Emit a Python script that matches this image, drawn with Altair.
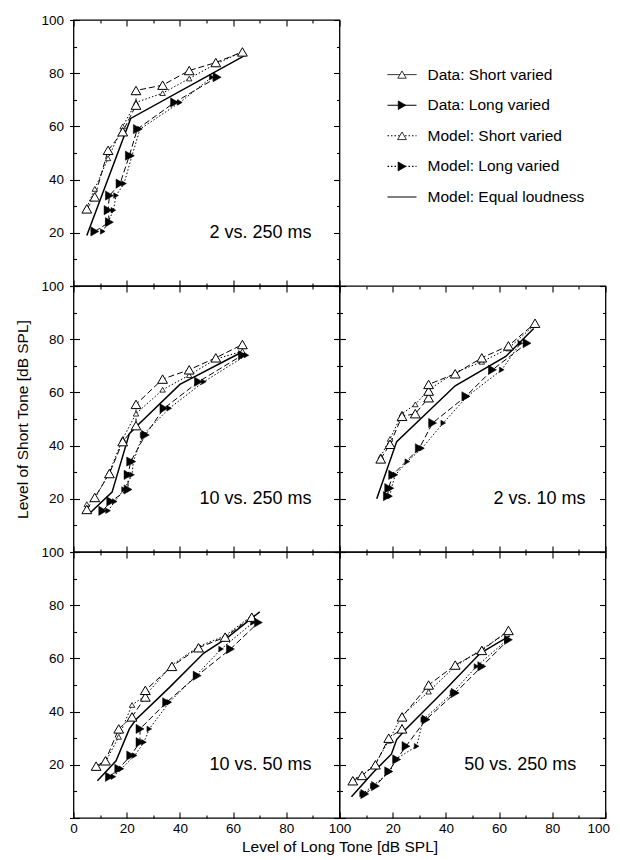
import altair as alt
import pandas as pd

FONT = "Liberation Sans"

SERIES = ["Data: Short varied", "Data: Long varied", "Model: Short varied",
          "Model: Long varied", "Model: Equal loudness"]
PANEL_LABELS = ["2 vs. 250 ms", "10 vs. 250 ms", "2 vs. 10 ms", "10 vs. 50 ms", "50 vs. 250 ms"]
TICK_VALUES = [0, 10, 20, 30, 40, 50, 60, 70, 80, 90, 100]
LABEL_VALUES = [0, 20, 40, 60, 80, 100]

# ---------------- Panel: 2 vs. 250 ms ----------------
DS_X_2_250 = [5, 8, 13, 18.5, 23.5, 23.5, 33.5, 43.5, 53.5, 63.5]
DS_Y_2_250 = [29, 33.5, 51, 58, 68, 73.5, 75.5, 81, 84, 88]
MS_X_2_250 = [5, 8, 13, 18.5, 23.5, 33.5, 43.5, 53.5, 63.5]
MS_Y_2_250 = [29.5, 36.5, 48, 60, 69, 72.5, 78, 83.5, 88]
DL_X_2_250 = [8, 13.5, 13, 13.5, 17.5, 21, 24, 38, 54]
DL_Y_2_250 = [20.5, 24, 28.5, 34, 38.5, 49, 59, 69, 78.5]
ML_X_2_250 = [11, 13, 15, 16, 19, 22, 25, 40, 52]
ML_Y_2_250 = [20.5, 24, 28.5, 34, 38.5, 49, 59, 69, 78.5]
EQ_X_2_250 = [5, 21.5, 65]
EQ_Y_2_250 = [19, 63, 87]

# ---------------- Panel: 10 vs. 250 ms ----------------
DS_X_10_250 = [5, 8, 13.5, 18.5, 23.5, 23.5, 33.5, 43.5, 53.5, 63.5]
DS_Y_10_250 = [16, 20.5, 29.5, 41.5, 47.5, 55.5, 65, 68.5, 73, 78]
MS_X_10_250 = [5, 8, 13.5, 18.5, 23.5, 33.5, 43.5, 53.5, 63.5]
MS_Y_10_250 = [18, 20, 30, 42.5, 52, 61, 66.5, 72.5, 75.5]
DL_X_10_250 = [11, 14, 20.5, 20.5, 21.5, 27, 34, 47, 63.5]
DL_Y_10_250 = [15.5, 19, 23.5, 29, 34, 44, 54, 64, 74]
ML_X_10_250 = [13, 15.5, 19, 22, 22.5, 26, 36, 49, 65]
ML_Y_10_250 = [15.5, 19, 23.5, 29, 34, 44, 54, 64, 74]
EQ_X_10_250 = [6, 14.5, 21, 24.5, 40, 63]
EQ_Y_10_250 = [14.5, 22.5, 44.5, 48, 63, 75]

# ---------------- Panel: 2 vs. 10 ms ----------------
DS_X_2_10 = [15.5, 19, 23.5, 28.5, 33.5, 33.5, 33.5, 43.5, 53.5, 63.5, 73.5]
DS_Y_2_10 = [35, 40.5, 51, 52, 58, 60.5, 63, 67, 73, 77.5, 86]
MS_X_2_10 = [15.5, 19, 23.5, 28.5, 33.5, 43.5, 53.5, 63.5, 73.5]
MS_Y_2_10 = [36, 42.5, 52, 55.5, 61, 67.5, 71.5, 76.5, 85.5]
DL_X_2_10 = [18, 18.5, 20, 30, 35, 47.5, 57.5, 70.5]
DL_Y_2_10 = [21, 24, 29, 39, 48.5, 58.5, 68.5, 78.5]
ML_X_2_10 = [19, 19.5, 21, 25.5, 31, 39, 48, 61, 68]
ML_Y_2_10 = [21, 24, 29, 34, 39, 48.5, 58.5, 68.5, 78.5]
EQ_X_2_10 = [14, 21.5, 43.5, 62.5, 73]
EQ_Y_2_10 = [20, 41.5, 62.5, 73.5, 84]

# ---------------- Panel: 10 vs. 50 ms ----------------
DS_X_10_50 = [8.5, 12, 17, 22, 27, 27, 37, 47, 57, 67]
DS_Y_10_50 = [19.5, 21.5, 33.5, 38, 45.5, 48, 57, 64, 68, 75.5]
MS_X_10_50 = [8.5, 12, 17, 22, 27, 37, 47, 57, 67]
MS_Y_10_50 = [19, 21, 30.5, 42.5, 46, 57.5, 64.5, 68.5, 76]
DL_X_10_50 = [13.5, 17, 21.5, 25, 25, 35, 46.5, 59, 69.5]
DL_Y_10_50 = [15.5, 18.5, 23.5, 28.5, 33.5, 43.5, 53.5, 63.5, 73.5]
ML_X_10_50 = [15, 18, 23, 26.5, 28.5, 36, 46, 55.5, 67.5]
ML_Y_10_50 = [15.5, 18.5, 23.5, 28.5, 33.5, 43.5, 53.5, 63.5, 73.5]
EQ_X_10_50 = [9, 16, 21, 23.5, 36, 49, 57.5, 70]
EQ_Y_10_50 = [14, 21.5, 33.5, 37, 49, 62, 67.5, 77.5]

# ---------------- Panel: 50 vs. 250 ms ----------------
DS_X_50_250 = [5, 8.5, 13.5, 18.5, 23.5, 23.5, 33.5, 43.5, 53.5, 63.5]
DS_Y_50_250 = [14, 16, 20, 30, 33.5, 38, 50, 57.5, 63, 70.5]
MS_X_50_250 = [5, 8.5, 13.5, 18.5, 23.5, 33.5, 43.5, 53.5, 63.5]
MS_Y_50_250 = [14.5, 16, 20.5, 29, 38.5, 47.5, 57, 63.5, 70]
DL_X_50_250 = [9.5, 13.5, 18.5, 21.5, 25, 32.5, 43.5, 53.5, 63.5]
DL_Y_50_250 = [9, 12, 17.5, 22, 27, 37, 47, 57, 67]
ML_X_50_250 = [8.5, 12.5, 19, 21, 29, 31.5, 42.5, 51.5, 63]
ML_Y_50_250 = [9, 12, 17.5, 22, 27, 37, 47, 57, 67]
EQ_X_50_250 = [4.5, 13, 19.5, 21.5, 25, 40, 53, 64]
EQ_Y_50_250 = [8, 17.5, 24, 29.5, 33.5, 48.5, 62, 68.5]

W = 266
H = 266
TICK_SIZE = {"condition": {"test": "datum.value % 20 === 0", "value": 6}, "value": 3}
TXT = dict(labelFont=FONT, labelFontSize=13.5, labelColor="black", titleFont=FONT,
           titleFontSize=15.5, titleFontWeight="normal", titleColor="black")


def series_frame(xs, ys, name):
    return pd.DataFrame({"x": xs, "y": ys, "series": name, "ord": list(range(len(xs)))})


def tick_axis(orient, offset):
    # inward-pointing ticks: axis placed on the opposite edge via a negative offset
    return alt.Axis(orient=orient, offset=offset, values=TICK_VALUES, tickSize=TICK_SIZE,
                    tickColor="black", tickWidth=1.1, domain=False, grid=False, labels=False)


def label_axis(orient, show, hide_zero, **extra):
    expr = "datum.value > 0 ? datum.label : ''" if hide_zero else "datum.label"
    kw = dict(orient=orient, values=LABEL_VALUES, domain=False, grid=False, labels=show,
              labelFlush=False, labelExpr=expr, **TXT)
    kw.update(extra)
    return alt.Axis(**kw)


def panel(d, label, label_x, xlab, hide_x0, ylab, x_title=None, y_title=None, flush_right=False):
    ds, ms, dl, ml, eq = d
    xs = alt.Scale(domain=[0, 100], nice=False, zero=False)
    ys = alt.Scale(domain=[0, 100], nice=False, zero=False)

    bx = dict(ticks=False, labelPadding=3.5)
    if flush_right:
        bx.update(labelFlush=True, labelFlushOffset=4)
    if x_title:
        bx.update(titleX=W, titleY=28, titleAlign="center", titleBaseline="middle")
    by = dict(ticks=True, tickSize=4, tickColor="black", tickWidth=1.1, labelPadding=6)
    if y_title:
        by.update(titleX=-51.3, titleY=H / 2, titleAngle=270, titleAlign="center",
                  titleBaseline="middle")

    # layer carrying the labelled bottom/left axes
    eq_layer = alt.Chart(eq).mark_line(color="black", strokeWidth=1.5).encode(
        x=alt.X("x:Q", scale=xs, axis=label_axis("bottom", xlab, hide_x0, **bx), title=x_title),
        y=alt.Y("y:Q", scale=ys, axis=label_axis("left", ylab, True, **by), title=y_title),
        order="ord:Q",
    )
    # inward ticks on bottom and left edges
    ds_line = alt.Chart(ds).mark_line(color="black", strokeWidth=1, strokeDash=[6, 3]).encode(
        x=alt.X("x:Q", scale=xs, axis=tick_axis("top", -H), title=None),
        y=alt.Y("y:Q", scale=ys, axis=tick_axis("right", -W), title=None),
        order="ord:Q",
    )
    # inward ticks on top and right edges
    dl_line = alt.Chart(dl).mark_line(color="black", strokeWidth=1, strokeDash=[6, 3]).encode(
        x=alt.X("x:Q", scale=xs, axis=tick_axis("bottom", -H), title=None),
        y=alt.Y("y:Q", scale=ys, axis=tick_axis("left", -W), title=None),
        order="ord:Q",
    )

    def line(df, dash):
        return alt.Chart(df).mark_line(color="black", strokeWidth=1, strokeDash=dash).encode(
            x=alt.X("x:Q", scale=xs, axis=None),
            y=alt.Y("y:Q", scale=ys, axis=None),
            order="ord:Q",
        )

    def pts(df, shape, size, fill, sw=1):
        return alt.Chart(df).mark_point(shape=shape, size=size, filled=True, fill=fill,
                                        stroke="black", strokeWidth=sw, opacity=1).encode(
            x=alt.X("x:Q", scale=xs, axis=None),
            y=alt.Y("y:Q", scale=ys, axis=None),
        )

    txt = alt.Chart(pd.DataFrame({"t": [label]})).mark_text(
        align="right", baseline="middle", font=FONT, fontSize=18, color="black"
    ).encode(
        x=alt.X(datum=label_x, type="quantitative", scale=xs, axis=None),
        y=alt.Y(datum=20, type="quantitative", scale=ys, axis=None),
        text="t:N",
    )

    layers = [
        eq_layer,
        ds_line,
        dl_line,
        line(ms, [1.5, 2]),
        line(ml, [1.5, 2]),
        pts(ms, "triangle-up", 30, "white", 0.8),
        pts(ml, "triangle-right", 30, "black", 0.5),
        pts(ds, "triangle-up", 95, "white", 1),
        pts(dl, "triangle-right", 85, "black", 0.5),
        txt,
    ]
    return alt.layer(*layers).resolve_axis(x="independent", y="independent").properties(
        width=W, height=H
    )


def panel_data(dsx, dsy, msx, msy, dlx, dly, mlx, mly, eqx, eqy):
    return (series_frame(dsx, dsy, SERIES[0]), series_frame(msx, msy, SERIES[2]),
            series_frame(dlx, dly, SERIES[1]), series_frame(mlx, mly, SERIES[3]),
            series_frame(eqx, eqy, SERIES[4]))


p1 = panel(panel_data(DS_X_2_250, DS_Y_2_250, MS_X_2_250, MS_Y_2_250, DL_X_2_250, DL_Y_2_250,
                      ML_X_2_250, ML_Y_2_250, EQ_X_2_250, EQ_Y_2_250),
           PANEL_LABELS[0], 89.5, False, False, True)
p2 = panel(panel_data(DS_X_10_250, DS_Y_10_250, MS_X_10_250, MS_Y_10_250, DL_X_10_250, DL_Y_10_250,
                      ML_X_10_250, ML_Y_10_250, EQ_X_10_250, EQ_Y_10_250),
           PANEL_LABELS[1], 89.5, False, False, True, y_title="Level of Short Tone [dB SPL]")
p3 = panel(panel_data(DS_X_2_10, DS_Y_2_10, MS_X_2_10, MS_Y_2_10, DL_X_2_10, DL_Y_2_10,
                      ML_X_2_10, ML_Y_2_10, EQ_X_2_10, EQ_Y_2_10),
           PANEL_LABELS[2], 92.5, False, False, False)
p4 = panel(panel_data(DS_X_10_50, DS_Y_10_50, MS_X_10_50, MS_Y_10_50, DL_X_10_50, DL_Y_10_50,
                      ML_X_10_50, ML_Y_10_50, EQ_X_10_50, EQ_Y_10_50),
           PANEL_LABELS[3], 89.5, True, False, True, x_title="Level of Long Tone [dB SPL]")
p5 = panel(panel_data(DS_X_50_250, DS_Y_50_250, MS_X_50_250, MS_Y_50_250, DL_X_50_250, DL_Y_50_250,
                      ML_X_50_250, ML_Y_50_250, EQ_X_50_250, EQ_Y_50_250),
           PANEL_LABELS[4], 89, True, True, False, flush_right=True)

# ---------------- legend panel ----------------
leg_df = pd.DataFrame({"label": SERIES})
leg_y = alt.Y("label:N", scale=alt.Scale(type="point", domain=SERIES, range=[54.6, 177], padding=0),
              axis=None)
leg_rule = alt.Chart(leg_df).mark_rule(color="black").encode(
    x=alt.value(48), x2=alt.value(77), y=leg_y,
    strokeDash=alt.StrokeDash("label:N", scale=alt.Scale(
        domain=SERIES, range=[[1, 0], [1, 0], [1.5, 2], [1.5, 2], [1, 0]]), legend=None),
    strokeWidth=alt.StrokeWidth("label:N", scale=alt.Scale(
        domain=SERIES, range=[1, 1.2, 1, 1, 1.6]), legend=None),
)
leg_pts = alt.Chart(leg_df).transform_filter(
    alt.FieldOneOfPredicate(field="label", oneOf=SERIES[:4])
).mark_point(filled=True, stroke="black", opacity=1, strokeWidth=0.8).encode(
    x=alt.value(62.5), y=leg_y,
    shape=alt.Shape("label:N", scale=alt.Scale(
        domain=SERIES[:4], range=["triangle-up", "triangle-right", "triangle-up", "triangle-right"]),
        legend=None),
    size=alt.Size("label:N", scale=alt.Scale(domain=SERIES[:4], range=[70, 80, 25, 25]), legend=None),
    fill=alt.Fill("label:N", scale=alt.Scale(domain=SERIES[:4],
                                            range=["white", "black", "white", "black"]), legend=None),
)
leg_txt = alt.Chart(leg_df).mark_text(align="left", baseline="middle", font=FONT, fontSize=15.5,
                                      color="black").encode(
    x=alt.value(88), y=leg_y, text="label:N"
)
legend_panel = alt.layer(leg_rule, leg_pts, leg_txt).properties(
    width=W, height=H, view=alt.ViewBackground(stroke="transparent")
)

chart = alt.concat(p1, legend_panel, p2, p3, p4, p5, columns=2, spacing=0, bounds="flush").properties(
    padding={"left": 6.5, "top": 4, "right": 1, "bottom": 0}, background="white"
).configure_view(stroke="black", strokeWidth=1.3)

chart.save("out.html", embed_options={"renderer": "svg", "actions": False})
